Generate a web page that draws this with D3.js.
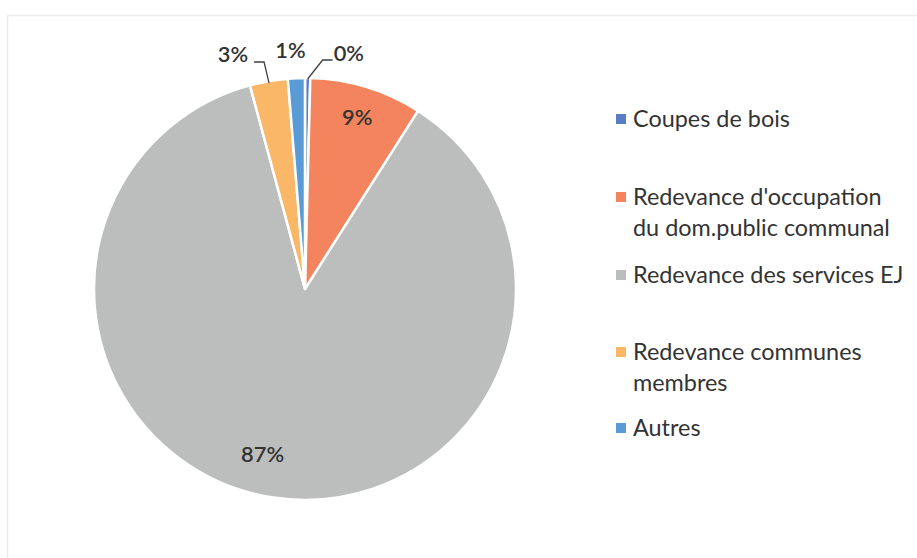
<!DOCTYPE html>
<html><head><meta charset="utf-8">
<script src="https://cdn.jsdelivr.net/npm/d3@7"></script>
<style>body{margin:0;background:#fff}svg{display:block}</style>
</head><body>
<svg id="c" width="917" height="558"></svg>
<script>
const categories = ["Coupes de bois", "Redevance d'occupation du dom.public communal", "Redevance des services EJ", "Redevance communes membres", "Autres"];
const legendLines = [["Coupes de bois"], ["Redevance d'occupation", "du dom.public communal"], ["Redevance des services EJ"], ["Redevance communes", "membres"], ["Autres"]];
const values = [0.4, 8.6, 86.8, 2.9, 1.3];
const labels = ["0%", "9%", "87%", "3%", "1%"];
const colors = ["#5a7ec6", "#f4845e", "#bcbebd", "#fab768", "#5b9bd5"];

const svg = d3.select("#c");
svg.append("rect").attr("x", 7.5).attr("y", 15.5).attr("width", 1000).attr("height", 700)
  .attr("fill", "none").attr("stroke", "#ececec").attr("stroke-width", 1.5);

const cx = 305, cy = 289, R = 211;
const g = svg.append("g").attr("transform", `translate(${cx},${cy})`);
const pie = d3.pie().sort(null).value(d => d);
const arcs = pie(values);
const arc = d3.arc().innerRadius(0).outerRadius(R);
g.selectAll("path").data(arcs).join("path")
  .attr("d", arc).attr("fill", (d, i) => colors[i])
  .attr("stroke", "#fff").attr("stroke-width", 2.5).attr("stroke-linejoin", "round");

const font = "Lato, 'Open Sans', sans-serif";
const txtCol = "#333333";
function fit(sel, target) {
  const w = sel.node().getComputedTextLength();
  const fs = parseFloat(sel.attr("font-size"));
  return fs * target / w;
}
const labelW = 600;
const probe = svg.append("text").attr("font-family", font).attr("font-weight", labelW).attr("font-size", 20).text("87%");
const labelFs = fit(probe, 43);
probe.remove();
const probe2 = svg.append("text").attr("font-family", font).attr("font-size", 20).text("Coupes de bois");
const legFs = fit(probe2, 157);
probe2.remove();

const mid = d => (d.startAngle + d.endAngle) / 2;
const pt = (a, r) => [Math.sin(a) * r, -Math.cos(a) * r];

function label(x, y, t, anchor) {
  return g.append("text").attr("x", x).attr("y", y).attr("dy", "0.35em")
    .attr("text-anchor", anchor).attr("font-family", font).attr("font-size", labelFs)
    .attr("font-weight", labelW).attr("fill", txtCol).text(t);
}

// inside labels
[1, 2].forEach(i => {
  const d = arcs[i];
  const a = mid(d) + (i === 2 ? 0.1 : 0);
  const r = i === 2 ? 0.81 * R : 0.85 * R;
  const [x, y] = pt(a, r);
  label(x, y, labels[i], "middle");
});

const lineAttr = s => s.attr("fill", "none").attr("stroke", "#404040").attr("stroke-width", 1.3);
// 3% label with leader to the left
{
  const d = arcs[3];
  const [x0, y0] = pt(mid(d), R - 2);
  const elbow = [x0 - 5, -R - 16];
  const end = [elbow[0] - 10, elbow[1]];
  lineAttr(g.append("path").attr("d", d3.line()([[x0, y0], elbow, end])));
  label(end[0] - 6, elbow[1] - 8, labels[3], "end");
}
// 1% label above
{
  const d = arcs[4];
  const [x0] = pt(mid(d), R);
  label(x0 - 6, -R - 28, labels[4], "middle");
}
// 0% label with leader to the right
{
  const d = arcs[0];
  const [x0, y0] = pt(mid(d), R - 1);
  const elbow = [x0 + 15, -R - 18];
  const end = [elbow[0] + 10, elbow[1]];
  lineAttr(g.append("path").attr("d", d3.line()([[x0, y0], elbow, end])));
  label(end[0] + 1, elbow[1] - 7, labels[0], "start");
}

// legend
const legY = [119, 197, 275, 352, 428];
const lg = svg.append("g");
legendLines.forEach((lines, i) => {
  lg.append("rect").attr("x", 616).attr("y", legY[i] - 5).attr("width", 10).attr("height", 10)
    .attr("fill", colors[i]);
  lines.forEach((t, j) => {
    lg.append("text").attr("x", 633).attr("y", legY[i] + j * 31).attr("dy", "0.35em")
      .attr("font-family", font).attr("font-size", legFs).attr("fill", txtCol).text(t);
  });
});
</script>
</body></html>
